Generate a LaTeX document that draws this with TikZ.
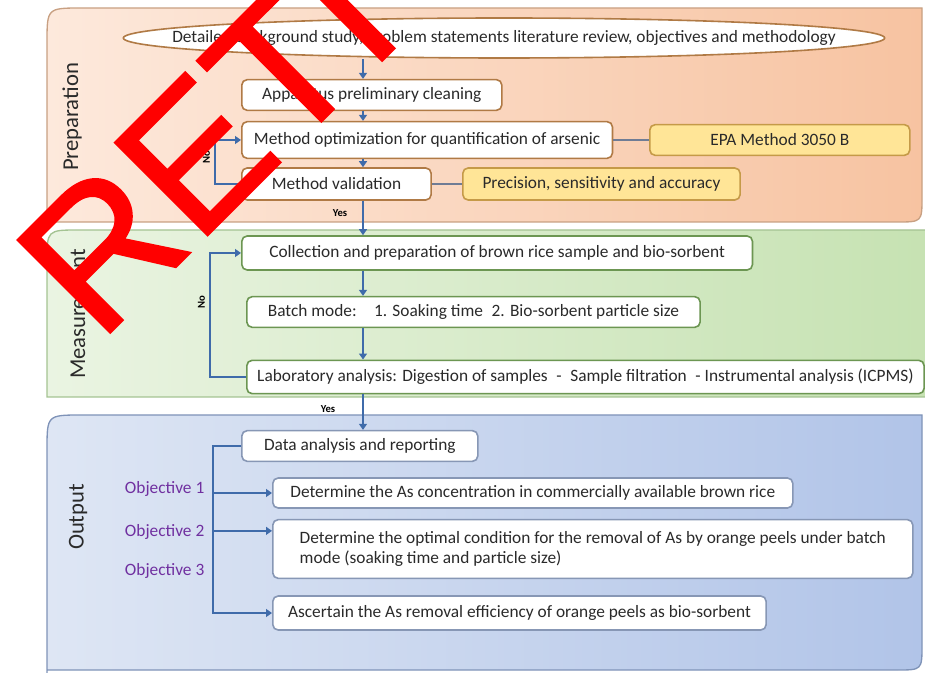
\documentclass[tikz,border=0pt]{standalone}
\usepackage{fontspec}
\setmainfont{Carlito}
\newfontfamily\stampfont[FakeBold=1]{Liberation Sans}
\usetikzlibrary{shapes.geometric,arrows.meta,positioning}

\definecolor{prepA}{HTML}{FDE9DC}
\definecolor{prepB}{HTML}{F7C3A1}
\definecolor{prepedge}{HTML}{C8A082}
\definecolor{prepline}{HTML}{B07A45}
\definecolor{notefill}{HTML}{FFE597}
\definecolor{noteline}{HTML}{C59A48}
\definecolor{measA}{HTML}{EAF4E2}
\definecolor{measB}{HTML}{C6E2B2}
\definecolor{measedge}{HTML}{A4C392}
\definecolor{measline}{HTML}{6C9652}
\definecolor{outA}{HTML}{DEE6F4}
\definecolor{outB}{HTML}{B1C4E8}
\definecolor{outedge}{HTML}{7F93B8}
\definecolor{outline2}{HTML}{8797B5}
\definecolor{flowblue}{HTML}{3F6BAA}
\definecolor{linkgray}{HTML}{6F7C95}
\definecolor{objpurple}{HTML}{7030A0}
\definecolor{ink}{HTML}{2A2A2A}

\tikzset{
  panel/.style={line width=1pt},
  stagelabel/.style={rotate=90, text=ink, font=\fontsize{17}{20}\selectfont},
  txt/.style={text=ink, font=\fontsize{13}{15.5}\selectfont},
  stepbox/.style={txt, draw, fill=white, rounded corners=4pt, line width=1.2pt, anchor=west, inner xsep=4pt},
  prepbox/.style={stepbox, draw=prepline},
  notebox/.style={stepbox, draw=noteline, fill=notefill},
  measbox/.style={stepbox, draw=measline},
  outbox/.style={stepbox, draw=outline2},
  flow/.style={->, color=flowblue, line width=1pt},
  link/.style={draw=linkgray, line width=1pt},
  tag/.style={text=black, font=\bfseries\fontsize{8}{9}\selectfont},
  objective/.style={anchor=east, text=objpurple, font=\fontsize{13}{15.5}\selectfont},
}

\begin{document}
\begin{tikzpicture}[x=0.75pt,y=-0.75pt,>={Triangle[width=6pt,length=4.5pt]}]
\useasboundingbox (0,0) rectangle (925,673);

% stage panels
\path[panel, draw=prepedge, left color=prepA, right color=prepB]
  (47,222) -- (47,43) .. controls (47,8) .. (82,8) -- (922,8) -- (922,197) .. controls (922,222) .. (897,222) -- cycle;
\path[panel, draw=measedge, left color=measA, right color=measB]
  (47,397) -- (47,262) .. controls (47,230) .. (79,230) -- (935,230) -- (935,397) -- cycle;
\path[panel, draw=outedge, left color=outA, right color=outB]
  (47,673) -- (47,450) .. controls (47,415) .. (82,415) -- (922,415) -- (922,645) .. controls (922,670) .. (897,670) -- (47,670);

\node[stagelabel] (lprep) at (72,117) {Preparation};
\node[stagelabel] (lmeas) at (78,314) {Measurement};
\node[stagelabel] (lout)  at (78,517) {Output};

% preparation
\node[ellipse, draw=prepline, fill=white, line width=1.2pt, minimum width=571pt, minimum height=30pt,
      label={[txt]center:Detailed background study, problem statements literature review, objectives and methodology}]
      (study) at (504,38) {};
\node[prepbox, minimum width=195pt, minimum height=23pt]   (clean) at (241,95)  {Apparatus preliminary cleaning};
\node[prepbox, minimum width=278pt, minimum height=27.5pt] (opt)   at (241,140) {Method optimization for quantification of arsenic};
\node[prepbox, minimum width=142pt, minimum height=24pt]   (valid) at (241,184) {Method validation};
\node[notebox, minimum width=195pt, minimum height=23pt]   (epa)   at (649,140) {EPA Method 3050 B};
\node[notebox, minimum width=208pt, minimum height=24pt]   (prec)  at (462,184) {Precision, sensitivity and accuracy};

% measurement
\node[measbox, minimum width=383pt, minimum height=25.5pt] (coll)  at (241,253) {Collection and preparation of brown rice sample and bio-sorbent};
\node[measbox, minimum width=340pt, minimum height=23pt]   (batch) at (246,312) {Batch mode:\quad 1. Soaking time\enspace 2. Bio-sorbent particle size};
\node[measbox, minimum width=508pt, minimum height=25pt]   (lab)   at (246,377) {Laboratory analysis: Digestion of samples\enspace-\enspace Sample filtration\enspace - Instrumental analysis (ICPMS)};

% output
\node[outbox, minimum width=177pt, minimum height=23pt]   (data) at (241,446) {Data analysis and reporting};
\node[outbox, minimum width=390pt, minimum height=22.5pt] (res1) at (272,493) {Determine the As concentration in commercially available brown rice};
\node[outbox, minimum width=480pt, minimum height=44pt, align=left]
                                                         (res2) at (272,549) {Determine the optimal condition for the removal of As by orange peels under batch\\mode (soaking time and particle size)};
\node[outbox, minimum width=370pt, minimum height=25.5pt] (res3) at (272,613) {Ascertain the As removal efficiency of orange peels as bio-sorbent};

\node[objective] (obj1) at (209,489) {Objective 1};
\node[objective] (obj2) at (209,532) {Objective 2};
\node[objective] (obj3) at (209,571) {Objective 3};

\coordinate (spine)  at (363,0);
\coordinate (noprep) at (215,0);
\coordinate (nomeas) at (210,0);
\coordinate (trunk)  at (213,0);
\coordinate (res2in) at ([yshift=-9pt]res2.north west);

\path [flow]
  (study.south -| spine) edge                                              (clean.north -| spine)
  (clean.south -| spine) edge                                              (opt.north -| spine)
  (opt.south -| spine)   edge                                              (valid.north -| spine)
  (valid.south -| spine) edge node[tag, pos=0.35, left=8pt] {Yes}          (coll.north -| spine)
  (coll.south -| spine)  edge                                              (batch.north -| spine)
  (batch.south -| spine) edge                                              (lab.north -| spine)
  (lab.south -| spine)   edge node[tag, pos=0.4, left=17pt] {Yes}          (data.north -| spine);

\draw [link] (opt) -- (epa);
\draw [link] (valid) -- (prec);

\draw [flow] (valid.west) -- (valid.west -| noprep) |- node[tag, pos=0.3, rotate=90, anchor=south] {No} (opt.west);
\draw [flow] (lab.west) -- (lab.west -| nomeas) |- node[tag, pos=0.3, rotate=90, anchor=south] {No} (coll.west);

\draw [flow] (data.west) -| (trunk |- res3.west) -- (res3.west);
\draw [flow] (trunk |- res1.west) -- (res1.west);
\draw [flow] (trunk |- res2in) -- (res2in);

\node[anchor=base west, rotate=45, inner sep=0, text=red, font=\stampfont\fontsize{143}{143}\selectfont] (stamp) at (99,344) {RET\kern-0.16em T};
\end{tikzpicture}
\end{document}
